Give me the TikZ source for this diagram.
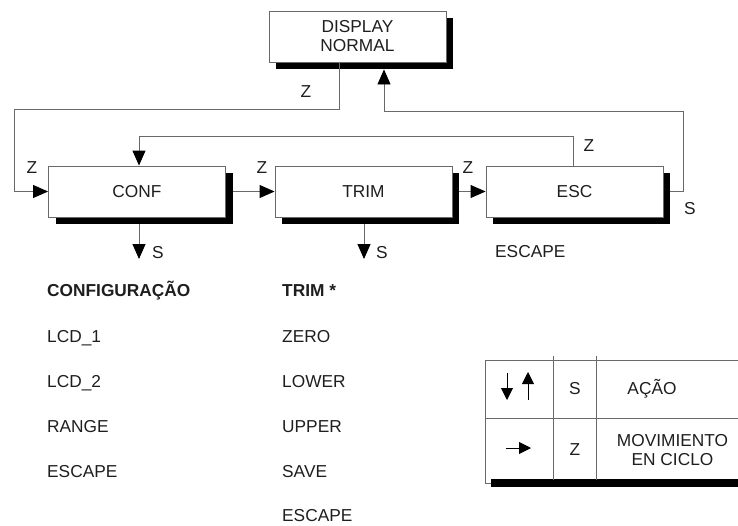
\documentclass[tikz,border=0pt]{standalone}
\usepackage{fontspec}
\setmainfont{Liberation Sans}
\usetikzlibrary{arrows.meta,shadows}
\definecolor{lgray}{RGB}{105,105,105}
\definecolor{ink}{RGB}{30,30,30}
\newcommand\fs{\fontsize{17.3}{19}\selectfont}
\begin{document}
\begin{tikzpicture}[x=1pt,y=-1pt,
  box/.style={draw=lgray,line width=0.9pt,fill=white,minimum width=177pt,minimum height=51pt,
    inner sep=0pt,font=\fs,text=ink,general shadow={fill=black,shadow xshift=7pt,shadow yshift=-7pt}},
  one/.style={text height=12.5pt,text depth=0pt},
  lbl/.style={inner sep=0pt,font=\fs,text=ink,text height=12.5pt,text depth=0pt},
  conn/.style={draw=lgray,line width=0.9pt},
  tip/.style={-{Triangle[length=15pt,width=13pt,black]}},
  stip/.style={-{Triangle[length=12pt,width=12pt,black]}}
]
\useasboundingbox (0,0) rectangle (738,525);

% boxes
\node[box,align=center] (disp) at (357.5,36.5) {DISPLAY\\NORMAL};
\node[box,one] (conf) at (137,191.5) {CONF};
\node[box,one] (trim) at (363.5,191.5) {TRIM};
\node[box,one] (esc) at (574.5,191.5) {ESC};

% helper coordinates
\coordinate (zx) at (339,0);
\coordinate (ux) at (384,0);
\coordinate (ex) at (573,0);
\coordinate (cx) at (139,0);
\coordinate (tx) at (364,0);
\coordinate (dispsh) at ([yshift=-7pt]disp.south);
\coordinate (confsh) at ([yshift=-7pt]conf.south);
\coordinate (trimsh) at ([yshift=-7pt]trim.south);
\coordinate (confe) at ([xshift=7pt]conf.east);
\coordinate (trime) at ([xshift=7pt]trim.east);
\coordinate (esce) at ([xshift=7pt]esc.east);
\coordinate (cs) at (139,259);
\coordinate (ts) at (364,259);

% connectors
\draw[conn,tip] (disp.south -| zx) -- (339,109) -- (14,109) -- (14,191.5) -- (conf.west);
\draw[conn,tip] (esce) -- (683,191.5) -- (683,111) -- (384,111) -- (dispsh -| ux);
\draw[conn,tip] (esc.north -| ex) -- (573,136) -- (139,136) -- (conf.north -| cx);
\draw[conn,tip] (confe) -- (trim.west);
\draw[conn,tip] (trime) -- (esc.west);
\draw[conn,tip] (confsh -| cx) -- (cs);
\draw[conn,tip] (trimsh -| tx) -- (ts);

% connector labels
\node[lbl] (lz0) at (306,91) {Z};
\node[lbl] (lz1) at (32,167.5) {Z};
\node[lbl] (lz2) at (262,167.5) {Z};
\node[lbl] (lz3) at (468,167.5) {Z};
\node[lbl] (lz4) at (589,145) {Z};
\node[lbl] (ls0) at (690,208) {S};
\node[lbl] (ls1) at (158,252.5) {S};
\node[lbl] (ls2) at (382,252.5) {S};
\node[lbl,anchor=west] (escl) at (495,251) {ESCAPE};

% lists
\node[lbl,anchor=west,font=\fs\bfseries] (c0) at (47,290) {CONFIGURAÇÃO};
\node[lbl,anchor=west] (c1) at (47,336) {LCD\_1};
\node[lbl,anchor=west] (c2) at (47,381) {LCD\_2};
\node[lbl,anchor=west] (c3) at (47,426) {RANGE};
\node[lbl,anchor=west] (c4) at (47,471) {ESCAPE};

\node[lbl,anchor=west,font=\fs\bfseries] (t0) at (282,290) {TRIM *};
\node[lbl,anchor=west] (t1) at (282,336) {ZERO};
\node[lbl,anchor=west] (t2) at (282,381) {LOWER};
\node[lbl,anchor=west] (t3) at (282,426) {UPPER};
\node[lbl,anchor=west] (t4) at (282,471) {SAVE};
\node[lbl,anchor=west] (t5) at (282,515.5) {ESCAPE};

% legend table
\fill[black] (491,479) rectangle (738,486.5);
\draw[conn] (738,360) -- (485,360) -- (485,483) -- (491,483);
\draw[conn] (485,418) -- (738,418);
\draw[conn] (553,356) -- (553,480);
\draw[conn] (596,356) -- (596,480);
\coordinate (a1s) at (507,373);
\coordinate (a1e) at (507,400);
\coordinate (a2s) at (528,400);
\coordinate (a2e) at (528,372);
\coordinate (a3s) at (506,448);
\coordinate (a3e) at (531,448);
\draw[line width=0.9pt,black,stip] (a1s) -- (a1e);
\draw[line width=0.9pt,black,stip] (a2s) -- (a2e);
\draw[line width=0.9pt,black,stip] (a3s) -- (a3e);
\node[lbl] (ks) at (575,388.5) {S};
\node[lbl] (ka) at (652,388.5) {AÇÃO};
\node[lbl] (kz) at (575,449) {Z};
\node[lbl,text height={},text depth={},align=center,font=\fontsize{17.3}{19.5}\selectfont] (km) at (672.5,450) {MOVIMIENTO\\EN CICLO};
\end{tikzpicture}
\end{document}
